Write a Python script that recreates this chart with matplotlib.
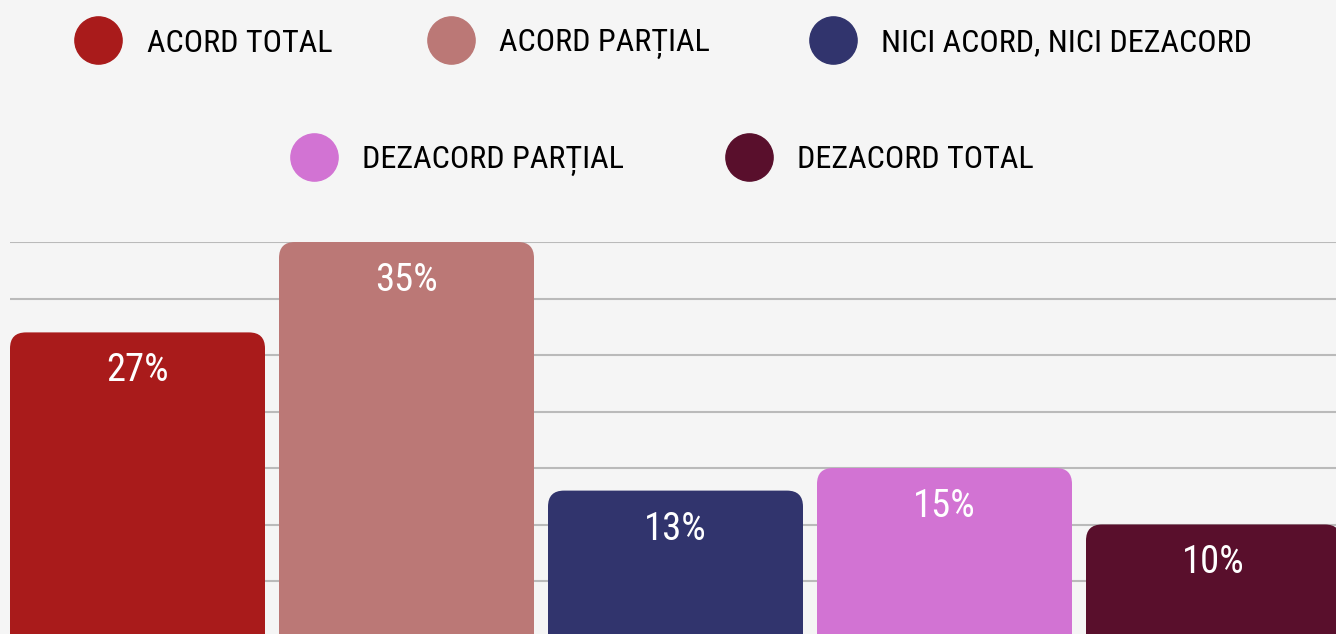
import matplotlib
matplotlib.use("Agg")
import matplotlib.pyplot as plt
from matplotlib import font_manager as fm
from matplotlib.patches import FancyBboxPatch

categories = ["ACORD TOTAL", "ACORD PARȚIAL", "NICI ACORD, NICI DEZACORD",
              "DEZACORD PARȚIAL", "DEZACORD TOTAL"]
values = [27, 35, 13, 15, 10]
colors = ["#a91b1b", "#bb7876", "#31346d", "#d273d3", "#590f2c"]

bg = "#f5f5f5"

# look for a condensed face, the original uses a narrow display font
narrow = None
prefs = ["Roboto Condensed", "Liberation Sans Narrow", "DejaVu Sans Condensed",
         "Noto Sans Condensed", "Open Sans Condensed"]
for p in prefs:
    for f in fm.fontManager.ttflist:
        if f.name == p and f.style == "normal" and f.weight in (400, "normal", "regular"):
            narrow = f.fname
            break
    if narrow:
        break
if narrow is None:
    for f in fm.fontManager.ttflist:
        st = str(f.stretch)
        if ("condensed" in st or "Condensed" in f.name or "Narrow" in f.name) \
                and f.style == "normal" and f.weight in (400, "normal", "regular"):
            narrow = f.fname
            break


def fp(size):
    if narrow:
        return fm.FontProperties(fname=narrow, size=size)
    return fm.FontProperties(family=["Roboto", "DejaVu Sans"], size=size)


fig = plt.figure(figsize=(13.36, 6.34), dpi=100, facecolor=bg)
ax_w = 1338
ax = fig.add_axes([10 / 1336, -3.5 / 634, ax_w / 1336, 395.5 / 634])
ax.set_facecolor(bg)
renderer = fig.canvas.get_renderer()


def fit_size(text, target_px, max_size):
    t = fig.text(0, 0, text, fontproperties=fp(max_size))
    w = t.get_window_extent(renderer).width
    t.remove()
    return min(max_size, max_size * target_px / w)


leg_size = fit_size("NICI ACORD, NICI DEZACORD", 371, 33)
lab_size = fit_size("35%", 63, 33)

xs = list(range(len(values)))
width = 255 / 269
bars = ax.bar(xs, values, width=width, color=colors)
ax.set_xlim(-width / 2, len(values) - 1 + 0.5)
ax.set_ylim(0, 35)

# swap plain bars for bars with rounded tops
px_x = ax_w / (len(values) - 0.5 + width / 2)
px_y = 395.5 / 35
for b, c, v in zip(bars, colors, values):
    b.set_visible(False)
    patch = FancyBboxPatch((b.get_x(), -3), b.get_width(), v + 3,
                           boxstyle="round,pad=0,rounding_size=%f" % (16 / px_x),
                           mutation_aspect=px_x / px_y,
                           facecolor=c, edgecolor="none", zorder=3, clip_on=False)
    ax.add_patch(patch)
    ax.text(b.get_x() + b.get_width() / 2, v - 3.4, "%d%%" % v,
            ha="center", va="center", color="white",
            fontproperties=fp(lab_size), zorder=4)

ax.set_yticks(range(0, 36, 5))
ax.grid(axis="y", color="#bababa", linewidth=1.5, zorder=0)
ax.set_axisbelow(True)
ax.tick_params(left=False, bottom=False, labelleft=False, labelbottom=False)
for s in ax.spines.values():
    s.set_visible(False)

# legend, two centered rows
rows = [
    [(98, 147, 0), (451, 499, 1), (833, 881, 2)],
    [(314, 362, 3), (749, 797, 4)],
]
row_y = [40, 157]
for items, yy in zip(rows, row_y):
    fy = 1 - yy / 634
    for mx, tx, i in items:
        fig.lines.append(plt.Line2D([mx / 1336], [fy], marker="o", markersize=34,
                                    color=colors[i], linestyle="none",
                                    transform=fig.transFigure))
        fig.text(tx / 1336, fy, categories[i], ha="left", va="center_baseline",
                 color="black", fontproperties=fp(leg_size))

fig.savefig("out.png", dpi=100, facecolor=bg)
